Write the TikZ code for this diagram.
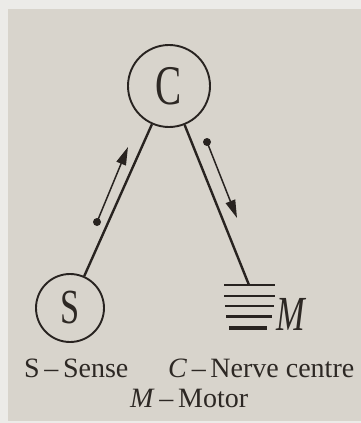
\documentclass[tikz,border=0pt]{standalone}
\usepackage{fontspec}
\setmainfont{Liberation Serif}
\usetikzlibrary{arrows.meta}
\definecolor{paper}{RGB}{216,212,204}
\definecolor{margin}{RGB}{236,235,232}
\definecolor{ink}{RGB}{40,35,32}
\definecolor{txt}{RGB}{45,40,36}
\newcommand{\bigletter}[2]{\scalebox{0.7}[1]{\fontsize{#1}{#1}\selectfont #2}}
\tikzset{
  organ/.style={circle, draw=ink, line width=1.9pt, inner sep=0pt, text=txt},
  nerve/.style={draw=ink, line width=2.4pt},
  impulse/.style={draw=ink, line width=1.5pt, -{Triangle[length=18pt,width=10pt]}},
  startdot/.style={circle, fill=ink, inner sep=0pt, minimum size=8pt},
  plate/.style={draw=ink, line width=#1},
  caption/.style={text=txt, anchor=base west, inner sep=0pt, font=\fontsize{28}{30}\selectfont},
}
\begin{document}
\begin{tikzpicture}[x=1pt, y=-1pt]
  % page and photo margins
  \fill[margin] (0,0) rectangle (361,423);
  \fill[paper] (8,9) rectangle (361,421);
  \useasboundingbox (0,0) rectangle (361,423);

  % nerve centre and sense organ
  \node[organ, minimum size=82pt] (C) at (169,86) {\bigletter{56}{C}};
  \node[organ, minimum size=68pt] (S) at (70,308) {\bigletter{49}{S}};

  % motor end plate
  \coordinate (Mtop) at (249,285);
  \coordinate (p1a) at (224,285);   \coordinate (p1b) at (275,285);
  \coordinate (p2a) at (224,296);   \coordinate (p2b) at (275,296);
  \coordinate (p3a) at (225,306);   \coordinate (p3b) at (274,306);
  \coordinate (p4a) at (226,316.5); \coordinate (p4b) at (272,316.5);
  \coordinate (p5a) at (229,328);   \coordinate (p5b) at (267,328);
  \draw[plate=1.6pt] (p1a) -- (p1b);
  \draw[plate=2.2pt] (p2a) -- (p2b);
  \draw[plate=2.4pt] (p3a) -- (p3b);
  \draw[plate=2.8pt] (p4a) -- (p4b);
  \draw[plate=3.6pt] (p5a) -- (p5b);
  \node[text=txt, inner sep=0pt, anchor=west] (M) at (276,314) {\bigletter{49}{\itshape M}};

  % nerve fibres
  \draw[nerve] (S) -- (C);
  \draw[nerve] (C) -- (Mtop);

  % direction of impulses
  \node[startdot] (d1) at (97,222) {};
  \coordinate (t1) at (128,147);
  \draw[impulse] (d1.center) -- (t1);
  \node[startdot] (d2) at (207,142) {};
  \coordinate (t2) at (237,218);
  \draw[impulse] (d2.center) -- (t2);

  % key
  \node[caption] (k1) at (24,377) {S\,–\,Sense};
  \node[caption] (k2) at (168,377) {\textit{C}\,–\,Nerve centre};
  \node[caption] (k3) at (130,407) {\textit{M}\,–\,Motor};
\end{tikzpicture}
\end{document}
